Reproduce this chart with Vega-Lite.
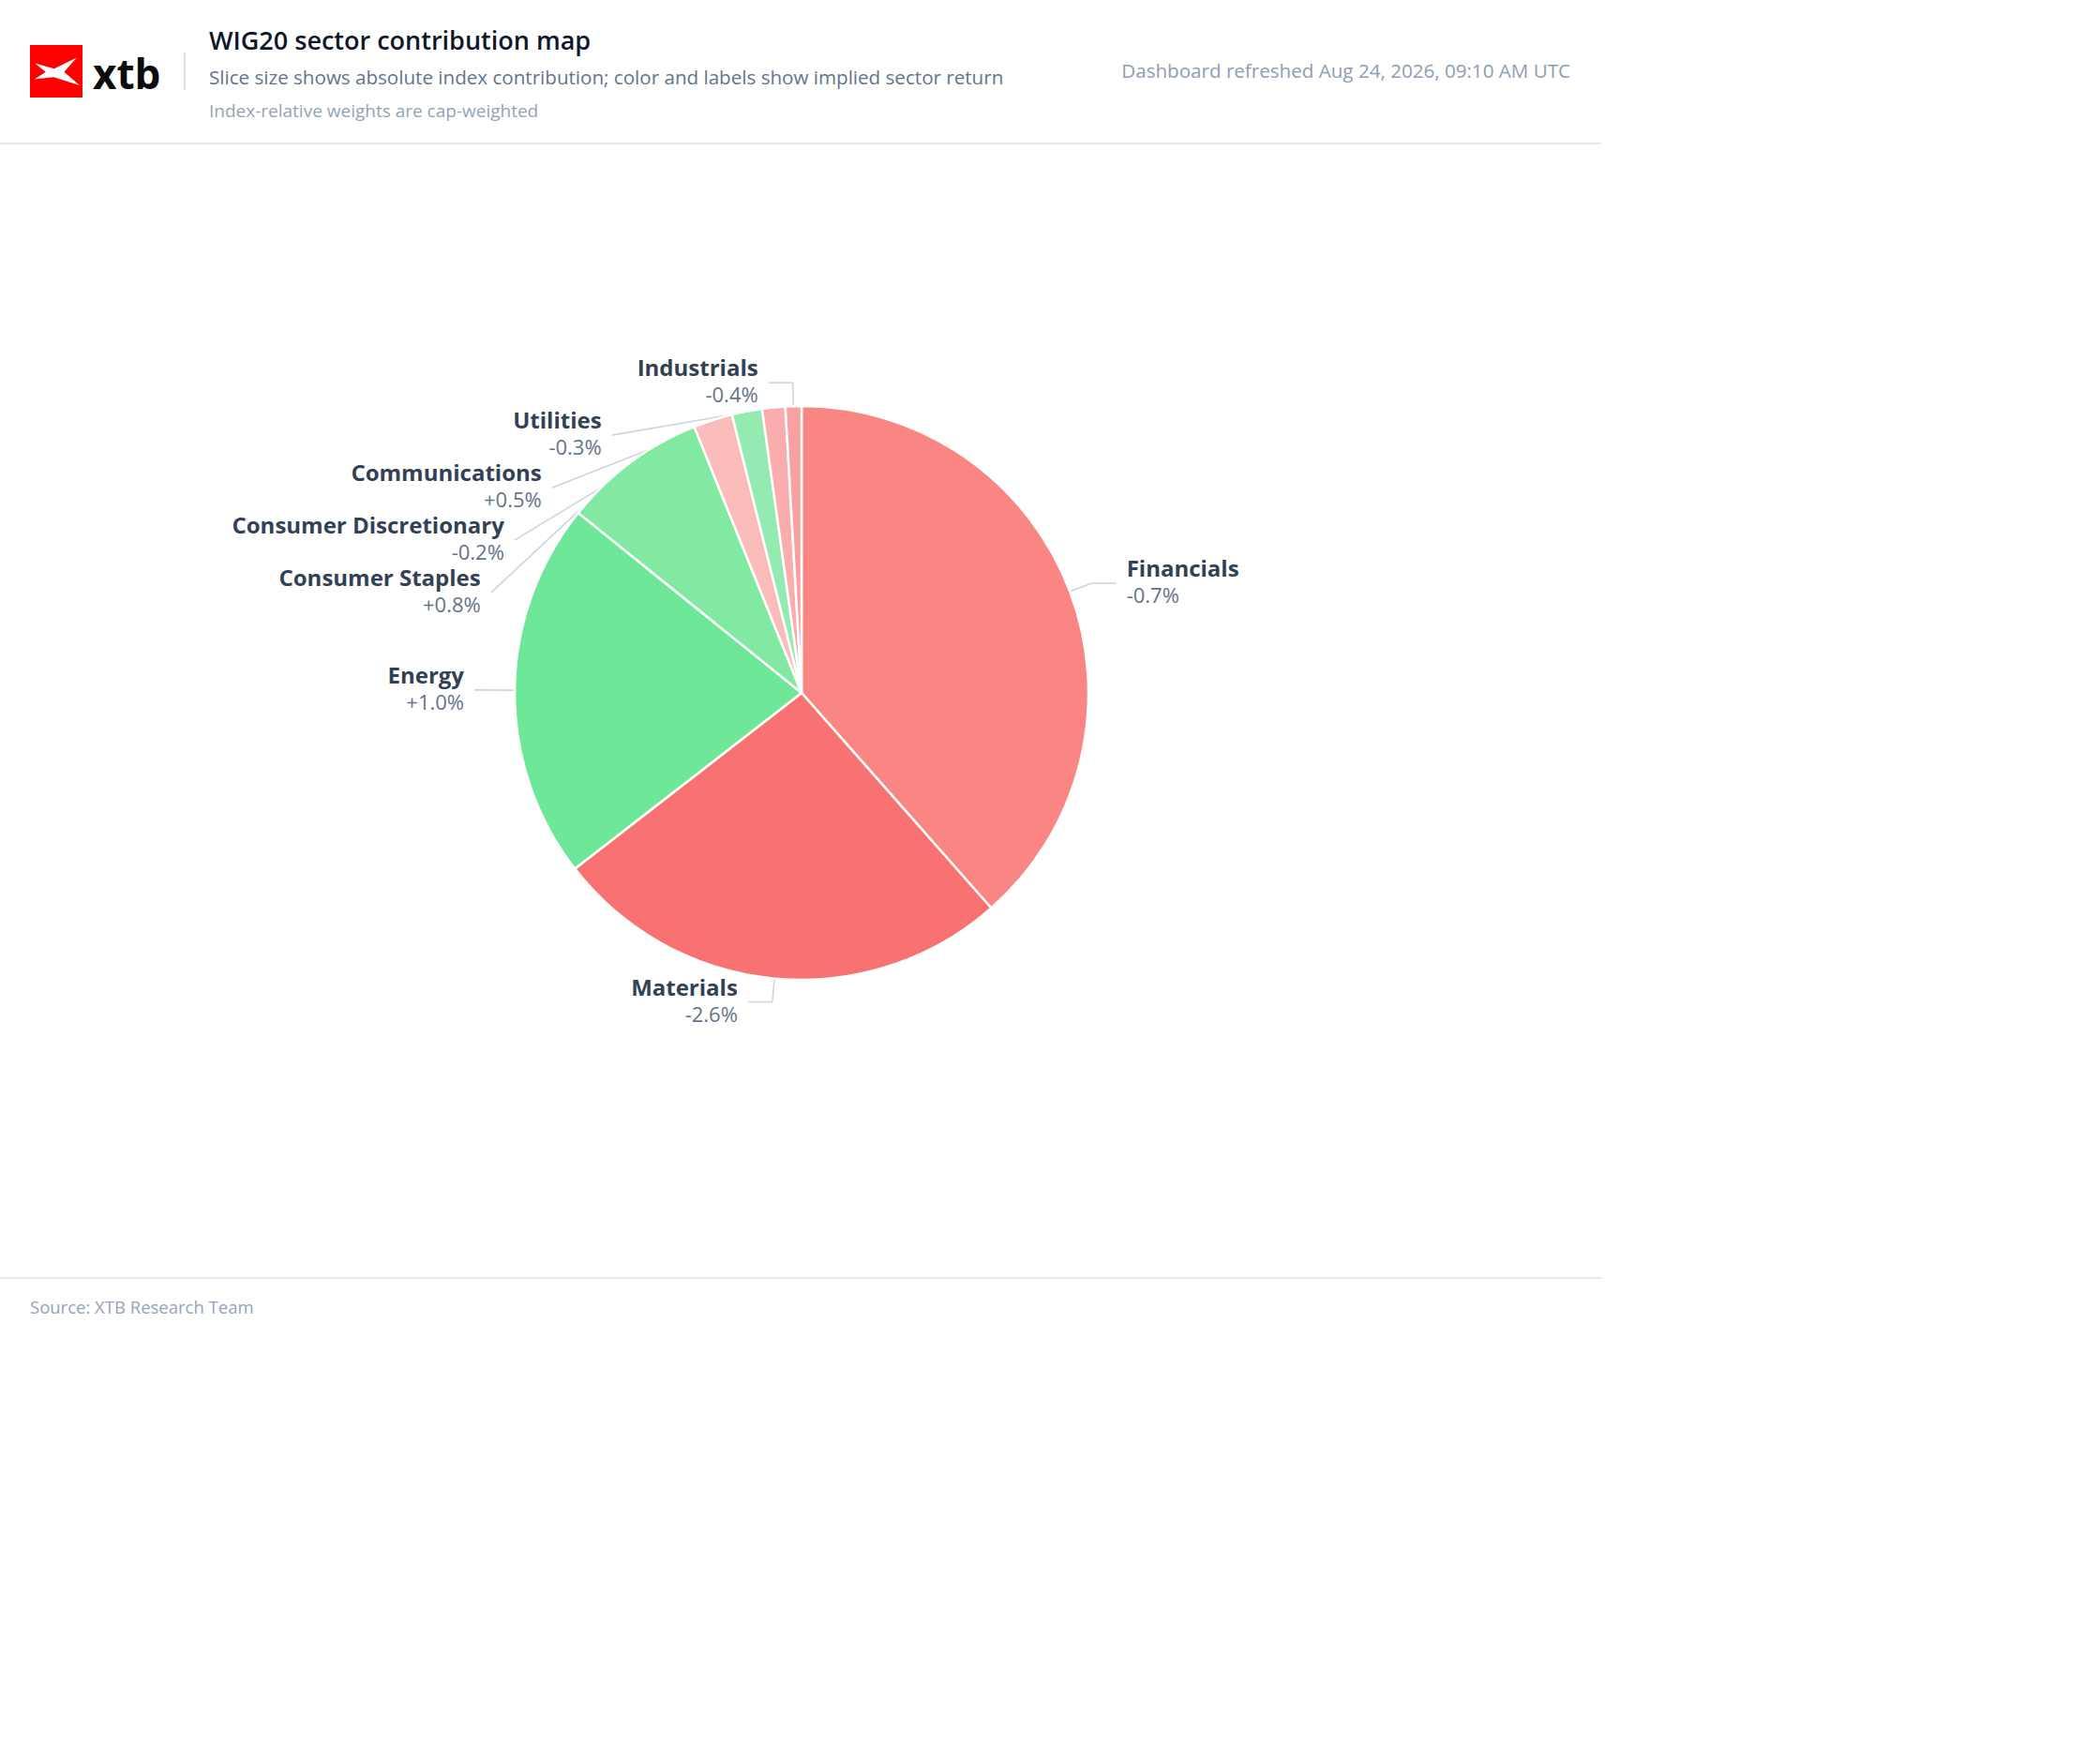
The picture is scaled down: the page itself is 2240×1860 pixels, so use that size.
{
  "$schema": "https://vega.github.io/schema/vega-lite/v6.json",
  "width": 1710,
  "height": 1478,
  "autosize": {"type": "none"},
  "padding": 0,
  "background": "#ffffff",
  "config": {"view": {"stroke": null}, "font": "Open Sans"},
  "layer": [
    {
      "data": {"values": [{}]},
      "mark": {"type": "point", "shape": "square", "size": 3136, "filled": true, "color": "#ff0000", "opacity": 1, "strokeWidth": 0},
      "encoding": {"x": {"value": 60}, "y": {"value": 76}}
    },
    {
      "data": {"values": [{}]},
      "mark": {"type": "point", "shape": "M-0.81,-0.3L-0.08,-0.1L0.78,-0.52L0.3,0.03L0.89,0.54L-0.1,0.22L-0.83,0.3L-0.4,0.03Z", "size": 3136, "filled": true, "color": "#ffffff", "opacity": 1, "strokeWidth": 0},
      "encoding": {"x": {"value": 60}, "y": {"value": 76}}
    },
    {
      "data": {"values": [{"t": "xtb"}]},
      "mark": {"type": "text", "fontSize": 44, "fontWeight": "bold", "color": "#0b0b0b", "align": "left", "baseline": "alphabetic"},
      "encoding": {"x": {"value": 99}, "y": {"value": 95}, "text": {"field": "t"}}
    },
    {
      "data": {"values": [{}]},
      "mark": {"type": "rule", "color": "#d9dfe8", "strokeWidth": 2},
      "encoding": {"x": {"value": 197}, "y": {"value": 56}, "y2": {"value": 96}}
    },
    {
      "data": {"values": [{"t": "WIG20 sector contribution map"}]},
      "mark": {"type": "text", "fontSize": 27, "fontWeight": 600, "color": "#0f172a", "align": "left", "baseline": "alphabetic"},
      "encoding": {"x": {"value": 223}, "y": {"value": 53}, "text": {"field": "t"}}
    },
    {
      "data": {"values": [{"t": "Slice size shows absolute index contribution; color and labels show implied sector return"}]},
      "mark": {"type": "text", "fontSize": 20.6, "color": "#64748b", "align": "left", "baseline": "alphabetic"},
      "encoding": {"x": {"value": 223}, "y": {"value": 90}, "text": {"field": "t"}}
    },
    {
      "data": {"values": [{"t": "Index-relative weights are cap-weighted"}]},
      "mark": {"type": "text", "fontSize": 19, "color": "#94a3b8", "align": "left", "baseline": "alphabetic"},
      "encoding": {"x": {"value": 223}, "y": {"value": 125}, "text": {"field": "t"}}
    },
    {
      "data": {"values": [{"t": "Dashboard refreshed Aug 24, 2026, 09:10 AM UTC"}]},
      "mark": {"type": "text", "fontSize": 20.6, "color": "#8e9db5", "align": "right", "baseline": "alphabetic"},
      "encoding": {"x": {"value": 1675}, "y": {"value": 83}, "text": {"field": "t"}}
    },
    {
      "data": {"values": [{}]},
      "mark": {"type": "rule", "color": "#e2e7f0", "strokeWidth": 2},
      "encoding": {"x": {"value": 0}, "x2": {"value": 1708}, "y": {"value": 153}}
    },
    {
      "data": {"values": [{}]},
      "mark": {"type": "rule", "color": "#e2e7f0", "strokeWidth": 2},
      "encoding": {"x": {"value": 0}, "x2": {"value": 1708}, "y": {"value": 1363}}
    },
    {
      "data": {"values": [{"t": "Source: XTB Research Team"}]},
      "mark": {"type": "text", "fontSize": 18.5, "color": "#94a3b8", "align": "left", "baseline": "alphabetic"},
      "encoding": {"x": {"value": 32}, "y": {"value": 1401}, "text": {"field": "t"}}
    },
    {
      "data": {
        "values": [
          {"sector": "Financials", "contribution": 38.5, "ret": -0.7},
          {"sector": "Materials", "contribution": 26.0, "ret": -2.6},
          {"sector": "Energy", "contribution": 21.3, "ret": 1.0},
          {"sector": "Consumer Staples", "contribution": 8.1, "ret": 0.8},
          {"sector": "Consumer Discretionary", "contribution": 2.2, "ret": -0.2},
          {"sector": "Communications", "contribution": 1.7, "ret": 0.5},
          {"sector": "Utilities", "contribution": 1.3, "ret": -0.3},
          {"sector": "Industrials", "contribution": 0.9, "ret": -0.4}
        ]
      },
      "transform": [
        {"joinaggregate": [{"op": "sum", "field": "contribution", "as": "total"}]},
        {"window": [{"op": "sum", "field": "contribution", "as": "cum"}], "sort": [{"field": "contribution", "order": "descending"}], "frame": [null, 0]},
        {"calculate": "2 * PI * (datum.cum - datum.contribution / 2) / datum.total", "as": "mid"},
        {"calculate": "sin(datum.mid) < 0 ? 'left' : 'right'", "as": "side"},
        {"calculate": "datum.side == 'left' ? -1 : 1", "as": "s"},
        {"calculate": "739 - 331 * cos(datum.mid)", "as": "natY"},
        {"window": [{"op": "row_number", "as": "k"}], "groupby": ["side"], "sort": [{"field": "natY", "order": "ascending"}]},
        {"calculate": "datum.natY - 56 * datum.k", "as": "t"},
        {"window": [{"op": "max", "field": "t", "as": "tmax"}], "groupby": ["side"], "sort": [{"field": "natY", "order": "ascending"}], "frame": [null, 0]},
        {"calculate": "datum.tmax + 56 * datum.k", "as": "labY"},
        {"calculate": "abs(datum.labY - datum.natY) > 0.5 || (datum.side == 'left' && abs(cos(datum.mid)) < 0.5)", "as": "shifted"},
        {"calculate": "855 + datum.s * sqrt(max(0, 331 * 331 - pow(datum.labY - 739, 2)))", "as": "bendX"},
        {"calculate": "datum.bendX + datum.s * (datum.shifted ? 18 : 26)", "as": "endX"},
        {"calculate": "datum.endX + datum.s * 11", "as": "textX"},
        {"calculate": "855 + 306 * sin(datum.mid)", "as": "x0"},
        {"calculate": "739 - 306 * cos(datum.mid)", "as": "y0"},
        {"calculate": "datum.shifted ? datum.endX : datum.bendX", "as": "x1"},
        {"calculate": "(datum.ret > 0 ? '+' : '-') + format(abs(datum.ret), '.1f') + '%'", "as": "retLabel"}
      ],
      "layer": [
        {
          "mark": {"type": "rule", "color": "#cbd5e1", "strokeWidth": 1.6},
          "encoding": {
            "x": {"field": "x0", "type": "quantitative", "scale": {"domain": [0, 1710], "nice": false, "zero": false}, "axis": null},
            "y": {"field": "y0", "type": "quantitative", "scale": {"domain": [0, 1478], "nice": false, "zero": false, "reverse": true}, "axis": null},
            "x2": {"field": "x1"},
            "y2": {"field": "labY"}
          }
        },
        {
          "mark": {"type": "rule", "color": "#cbd5e1", "strokeWidth": 1.6},
          "encoding": {
            "x": {"field": "x1", "type": "quantitative"},
            "y": {"field": "labY", "type": "quantitative"},
            "x2": {"field": "endX"},
            "y2": {"field": "labY"}
          }
        },
        {
          "mark": {"type": "arc", "outerRadius": 306, "stroke": "#ffffff", "strokeWidth": 2.5},
          "encoding": {
            "theta": {"field": "contribution", "type": "quantitative", "stack": true},
            "order": {"field": "contribution", "sort": "descending"},
            "color": {
              "field": "sector",
              "type": "nominal",
              "scale": {
                "domain": ["Financials", "Materials", "Energy", "Consumer Staples", "Consumer Discretionary", "Communications", "Utilities", "Industrials"],
                "range": ["#f98683", "#f77271", "#6ee799", "#81e9a2", "#fbbcbc", "#93ebb1", "#fbadad", "#f9a0a0"]
              },
              "legend": null
            }
          }
        },
        {
          "transform": [{"filter": "datum.side == 'left'"}],
          "mark": {"type": "text", "fontSize": 24, "fontWeight": "bold", "color": "#334155", "align": "right", "baseline": "middle", "dy": -14},
          "encoding": {"x": {"field": "textX", "type": "quantitative"}, "y": {"field": "labY", "type": "quantitative"}, "text": {"field": "sector"}}
        },
        {
          "transform": [{"filter": "datum.side == 'left'"}],
          "mark": {"type": "text", "fontSize": 22, "color": "#64748b", "align": "right", "baseline": "middle", "dy": 14},
          "encoding": {"x": {"field": "textX", "type": "quantitative"}, "y": {"field": "labY", "type": "quantitative"}, "text": {"field": "retLabel"}}
        },
        {
          "transform": [{"filter": "datum.side == 'right'"}],
          "mark": {"type": "text", "fontSize": 24, "fontWeight": "bold", "color": "#334155", "align": "left", "baseline": "middle", "dy": -14},
          "encoding": {"x": {"field": "textX", "type": "quantitative"}, "y": {"field": "labY", "type": "quantitative"}, "text": {"field": "sector"}}
        },
        {
          "transform": [{"filter": "datum.side == 'right'"}],
          "mark": {"type": "text", "fontSize": 22, "color": "#64748b", "align": "left", "baseline": "middle", "dy": 14},
          "encoding": {"x": {"field": "textX", "type": "quantitative"}, "y": {"field": "labY", "type": "quantitative"}, "text": {"field": "retLabel"}}
        }
      ]
    }
  ]
}
